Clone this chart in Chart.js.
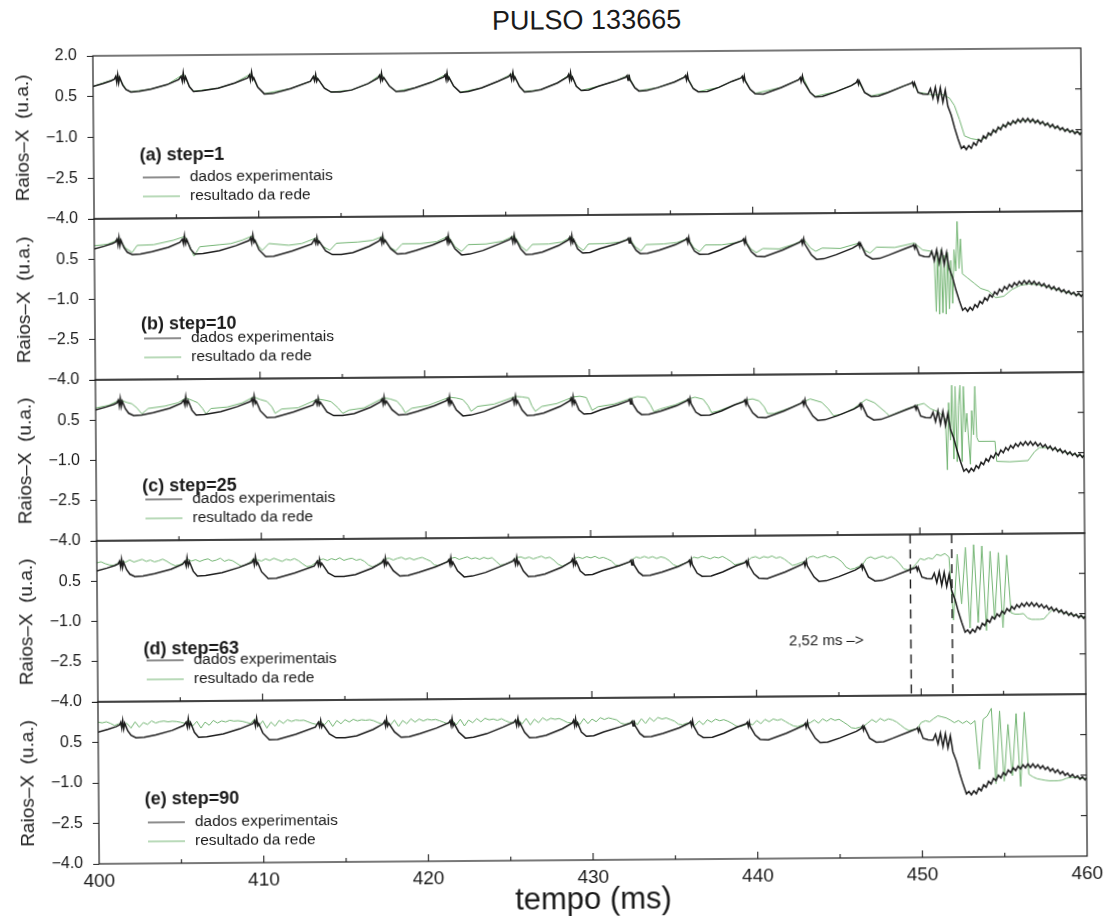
<!DOCTYPE html>
<html>
<head>
<meta charset="utf-8">
<title>PULSO 133665</title>
<script src="https://cdn.jsdelivr.net/npm/chart.js@4.4.1/dist/chart.umd.min.js"></script>
<style>
  html, body { margin: 0; padding: 0; background: #fff; }
  #figura {
    position: relative; width: 1110px; height: 916px; background: #fff;
    transform: rotate(-0.45deg); transform-origin: 590px 456px;
  }
  #titulo {
    position: absolute; left: 290px; width: 600px; top: 5px;
    text-align: center; font: 27px "Liberation Sans", Arial, Helvetica, sans-serif; color: #1a1a1a;
  }
  #figura canvas { position: absolute; left: 0; }
</style>
</head>
<body>
<div id="figura"><div id="titulo">PULSO 133665</div></div>
<script>
// ---- axis ticks and labels ----
const temposEixo = [400, 410, 420, 430, 440, 450, 460];
const yTicks = [-4.0, -2.5, -1.0, 0.5, 2.0];
const rotulosPainel = ['(a) step=1', '(b) step=10', '(c) step=25', '(d) step=63', '(e) step=90'];
const nomesSeries = ['dados experimentais', 'resultado da rede'];
const marcasTempo = [449.4, 451.92];      // dashed markers in panel (d)
const notaMarcas = '2,52 ms \u2013>';
const posNota = [442.0, -1.93];

// ---- measured soft X-ray signal [t (ms), value (u.a.)] ----
const experimental = [
  [400.0,0.88],[400.6,0.98],[401.1,1.08],[401.3,1.14],
  [401.38,1.24],[401.44,1.02],[401.5,1.3],[401.56,1.0],[401.62,1.2],
  [401.8,0.92],[402.0,0.75],[402.3,0.66],[402.8,0.68],[403.5,0.76],[404.5,0.92],[405.2,1.1],
  [405.35,1.22],[405.42,1.04],[405.48,1.35],[405.55,1.05],[405.62,1.2],
  [405.85,0.84],[406.1,0.66],[406.6,0.68],[407.6,0.78],[408.6,0.96],[409.4,1.15],
  [409.5,1.25],[409.56,1.06],[409.63,1.36],[409.7,1.08],[409.76,1.15],
  [410.0,0.8],[410.4,0.55],[410.9,0.56],[412.0,0.74],[413.2,1.0],
  [413.38,1.18],[413.45,1.02],[413.52,1.25],[413.58,1.0],[413.65,1.1],
  [414.05,0.74],[414.45,0.6],[415.0,0.6],[415.7,0.67],[416.7,0.9],[417.3,1.1],
  [417.4,1.2],[417.46,1.02],[417.52,1.28],[417.58,1.02],[417.66,1.12],
  [418.0,0.8],[418.4,0.6],[418.9,0.62],[419.55,0.73],[420.55,0.93],[421.3,1.12],
  [421.38,1.2],[421.44,1.02],[421.5,1.27],[421.56,1.0],[421.62,1.1],
  [421.9,0.78],[422.3,0.55],[422.8,0.58],[423.6,0.71],[424.6,0.95],[425.25,1.12],
  [425.35,1.2],[425.42,1.0],[425.5,1.27],[425.56,1.0],[425.62,1.1],
  [425.9,0.75],[426.2,0.55],[426.6,0.56],[427.2,0.63],[428.2,0.87],[428.8,1.08],
  [428.88,1.18],[428.94,0.98],[429.0,1.24],[429.06,0.98],[429.12,1.08],
  [429.35,0.74],[429.65,0.58],[430.1,0.6],[430.7,0.74],[431.7,0.92],[432.35,1.06],
  [432.43,1.12],[432.49,0.95],[432.55,1.16],[432.61,0.96],
  [432.9,0.67],[433.15,0.55],[433.6,0.56],[434.3,0.67],[435.3,0.87],[435.9,1.04],
  [435.98,1.1],[436.04,0.94],[436.1,1.14],[436.16,0.94],
  [436.45,0.62],[436.75,0.5],[437.3,0.51],[438.0,0.66],[438.8,0.88],[439.35,1.0],
  [439.43,1.06],[439.49,0.9],[439.55,1.07],[439.6,0.9],
  [439.9,0.58],[440.2,0.42],[440.7,0.4],[441.8,0.64],[442.85,0.92],
  [442.95,1.0],[443.0,0.85],[443.08,1.06],[443.14,0.86],
  [443.55,0.44],[443.85,0.28],[444.3,0.3],[445.05,0.45],[446.05,0.69],[446.35,0.8],
  [446.42,0.88],[446.48,0.74],[446.52,0.87],
  [446.85,0.43],[447.25,0.28],[447.7,0.3],[448.25,0.42],[449.25,0.66],[449.7,0.76],
  [449.76,0.8],[449.82,0.66],[449.88,0.78],
  [450.1,0.41],[450.4,0.35],[450.7,0.34],
  [450.85,0.55],[451.0,0.2],[451.15,0.6],[451.3,0.1],[451.45,0.58],[451.6,0.05],[451.75,0.5],[451.9,-0.1],
  [452.1,-0.43],[452.3,-0.9],[452.5,-1.3],[452.7,-1.66],
  [452.85,-1.57],[453.0,-1.7],[453.15,-1.55],[453.3,-1.66],[453.45,-1.45],[453.6,-1.55],[453.75,-1.33],[453.9,-1.42],
  [454.05,-1.2],[454.2,-1.3],[454.35,-1.09],[454.5,-1.18],[454.65,-0.98],[454.8,-1.08],[454.95,-0.88],[455.1,-0.98],
  [455.25,-0.79],[455.4,-0.89],[455.55,-0.71],[455.7,-0.81],[455.85,-0.65],[456.0,-0.75],[456.15,-0.6],[456.3,-0.71],
  [456.45,-0.57],[456.6,-0.7],[456.75,-0.57],[456.9,-0.71],[457.05,-0.6],[457.2,-0.74],[457.35,-0.64],[457.5,-0.78],
  [457.65,-0.69],[457.8,-0.84],[457.95,-0.75],[458.1,-0.9],[458.25,-0.8],[458.4,-0.95],[458.55,-0.86],[458.7,-1.0],
  [458.85,-0.92],[459.0,-1.06],[459.15,-0.97],[459.3,-1.1],[459.45,-1.02],[459.6,-1.15],[459.75,-1.06],[459.9,-1.18],[460.0,-1.1]
];

// ---- network output, step = 1 ----
const rede1 = [
  [400.0,0.88],[401.3,1.14],[401.5,1.26],[402.0,0.76],[402.3,0.67],[403.5,0.76],[404.5,0.92],[405.5,1.3],
  [405.85,0.84],[406.1,0.67],[407.6,0.78],[408.6,0.96],[409.6,1.3],[410.0,0.8],[410.4,0.56],[412.0,0.74],
  [413.2,1.0],[413.5,1.22],[414.05,0.75],[414.45,0.6],[415.7,0.67],[416.7,0.9],[417.5,1.25],[418.0,0.8],
  [418.4,0.61],[419.55,0.73],[420.55,0.93],[421.5,1.24],[421.9,0.78],[422.3,0.56],[423.6,0.71],[424.6,0.95],
  [425.5,1.24],[425.9,0.76],[426.2,0.56],[427.2,0.63],[428.2,0.87],[429.0,1.2],[429.35,0.75],[429.65,0.59],
  [430.7,0.74],[431.7,0.92],[432.5,1.13],[432.9,0.68],[433.15,0.56],[434.3,0.67],[435.3,0.87],[436.05,1.1],
  [436.45,0.63],[436.75,0.51],[438.0,0.66],[438.8,0.88],[439.5,1.04],[439.9,0.59],[440.2,0.43],[441.8,0.64],
  [442.85,0.92],[443.1,1.03],[443.55,0.45],[443.85,0.3],[445.05,0.46],[446.05,0.69],[446.45,0.85],[446.85,0.44],
  [447.25,0.3],[448.25,0.43],[449.25,0.66],[449.8,0.78],[450.1,0.42],[450.7,0.36],[451.0,0.3],[451.5,0.35],
  [452.0,0.2],[452.3,-0.08],[452.6,-0.6],[452.9,-1.2],[453.3,-1.3],[453.9,-1.36],[454.2,-1.25],[454.7,-1.04],
  [455.2,-0.86],[455.7,-0.75],[456.2,-0.66],[456.7,-0.64],[457.2,-0.68],[457.7,-0.76],[458.2,-0.86],[458.7,-0.95],
  [459.2,-1.03],[459.7,-1.1],[460.0,-1.13]
];

// ---- network output, step = 10 ----
const rede10 = [
  [400.0,1.0],[400.8,1.05],[401.2,1.15],[401.5,1.27],[401.9,0.9],[402.3,0.74],[402.6,1.0],[403.6,1.02],
  [404.8,1.18],[405.5,1.32],[405.9,0.8],[406.05,0.58],[406.4,0.93],[407.6,1.0],[408.3,1.04],[409.0,1.17],
  [409.6,1.32],[409.95,0.95],[410.2,0.78],[410.6,1.03],[411.8,0.96],[412.6,1.02],[413.5,1.23],[413.9,0.9],
  [414.3,0.76],[414.7,1.02],[416.0,1.06],[416.9,1.12],[417.5,1.26],[417.9,0.88],[418.3,0.72],[418.7,0.98],
  [419.8,0.98],[420.8,1.05],[421.5,1.25],[421.9,0.86],[422.3,0.68],[422.7,0.93],[423.8,0.95],[424.8,1.05],
  [425.5,1.25],[425.9,0.86],[426.25,0.68],[426.6,0.92],[427.6,0.93],[428.4,1.0],[429.0,1.2],[429.35,0.85],
  [429.7,0.68],[430.0,0.92],[431.0,0.93],[431.9,0.98],[432.5,1.12],[432.85,0.8],[433.2,0.65],[433.5,0.88],
  [434.6,0.9],[435.4,0.95],[436.05,1.1],[436.4,0.75],[436.75,0.6],[437.1,0.85],[438.1,0.85],[438.9,0.92],
  [439.5,1.04],[439.85,0.7],[440.2,0.55],[440.6,0.7],[441.6,0.68],[442.5,0.85],[443.1,1.02],[443.5,0.7],
  [443.8,0.58],[444.2,0.7],[445.3,0.68],[446.45,0.88],[446.8,0.6],[447.1,0.5],[447.5,0.72],[448.6,0.7],
  [449.8,0.86],[450.3,0.6],[450.8,0.55],[451.0,0.3],
  [451.1,-1.7],[451.2,0.5],[451.3,-1.8],[451.4,0.6],[451.5,-1.75],[451.6,0.4],[451.7,-1.8],[451.8,0.5],
  [451.9,-1.6],[452.0,0.2],[452.1,-1.4],[452.2,0.6],[452.3,-0.2],[452.4,1.65],[452.5,-0.1],[452.6,1.0],
  [452.7,-0.3],[453.0,-0.45],[453.4,-0.65],[453.8,-0.85],[454.3,-0.95],[454.7,-1.2],[455.2,-1.15],[455.7,-0.9],
  [456.2,-0.75],[456.7,-0.7],[457.2,-0.72],[457.7,-0.78],[458.2,-0.88],[458.7,-0.96],[459.2,-1.05],[459.7,-1.12],
  [460.0,-1.15]
];

// ---- network output, step = 25 ----
const rede25 = [
  [400.0,0.95],[400.8,1.05],[401.5,1.25],[401.9,1.15],[402.2,1.1],[402.5,0.95],[402.8,0.72],[403.2,0.92],
  [404.2,1.0],[405.0,1.12],[405.5,1.3],[405.9,1.2],[406.2,1.12],[406.5,0.9],[406.7,0.7],[407.0,0.9],
  [408.0,0.95],[408.9,1.1],[409.6,1.32],[410.0,1.22],[410.4,1.15],[410.7,0.95],[410.9,0.7],[411.3,0.86],
  [412.3,0.9],[413.5,1.22],[413.9,1.18],[414.3,1.12],[414.7,0.9],[415.0,0.68],[415.4,0.8],[416.3,0.88],
  [417.5,1.25],[417.9,1.2],[418.3,1.12],[418.6,0.9],[418.8,0.68],[419.2,0.85],[420.2,0.95],[421.5,1.25],
  [421.9,1.22],[422.3,1.16],[422.6,0.95],[422.8,0.72],[423.2,0.9],[424.2,0.98],[425.5,1.26],[425.9,1.24],
  [426.3,1.2],[426.5,0.9],[426.7,0.7],[427.1,0.88],[428.0,0.98],[429.0,1.22],[429.4,1.25],[429.8,1.2],
  [430.0,0.92],[430.15,0.72],[430.5,0.85],[431.5,0.95],[432.5,1.15],[432.9,1.22],[433.4,1.18],[433.7,0.9],
  [433.9,0.65],[434.3,0.75],[435.2,0.9],[436.05,1.12],[436.4,1.18],[436.9,1.1],[437.2,0.85],[437.4,0.6],
  [437.8,0.66],[438.7,0.86],[439.5,1.06],[439.9,1.1],[440.3,1.02],[440.6,0.8],[440.8,0.55],[441.2,0.55],
  [442.3,0.78],[443.1,1.0],[443.4,1.08],[444.1,0.95],[444.5,0.7],[444.8,0.45],[445.3,0.5],[446.05,0.72],
  [446.45,0.9],[446.8,1.05],[447.3,0.92],[448.0,0.55],[448.2,0.42],[449.25,0.68],[449.8,0.8],[450.3,0.88],
  [450.7,0.68],[451.2,0.55],[451.6,0.3],
  [451.7,-1.6],[451.8,0.9],[451.9,-0.5],[452.0,1.55],[452.1,-1.2],[452.2,1.5],[452.3,-1.3],[452.4,0.8],
  [452.5,1.55],[452.6,-1.3],[452.7,1.5],[452.8,-0.2],[452.9,0.5],[453.0,-0.5],[453.1,-1.4],[453.2,0.6],
  [453.3,-0.3],[453.4,1.5],[453.5,-0.4],[453.6,-0.55],[454.6,-0.55],[454.7,-1.3],[455.5,-1.32],[456.6,-1.28],
  [457.0,-0.95],[457.3,-0.8],[457.8,-0.8],[458.3,-0.87],[458.8,-0.97],[459.3,-1.05],[459.7,-1.1],[460.0,-1.14]
];

// ---- network output, steps 63 and 90: sampled every 0.25 ms from 400 ms, one row per ms ----
const inicioAmostra = 400;
const passoAmostra = 0.25;
const rede63 = [
  1.18, 1.22, 1.15, 1.10,   1.08, 1.15, 1.25, 1.20,   1.28, 1.20, 1.25, 1.30,   1.22, 1.27, 1.20, 1.24,
  1.30, 1.22, 1.12, 1.05,   1.08, 1.15, 1.30, 1.22,   1.27, 1.20, 1.26, 1.30,   1.21, 1.25, 1.32, 1.20,
  1.26, 1.22, 1.12, 1.02,   1.05, 1.14, 1.28, 1.25,   1.20, 1.28, 1.22, 1.30,   1.24, 1.18, 1.26, 1.22,
  1.28, 1.20, 1.08, 0.98,   1.00, 1.10, 1.22, 1.26,   1.20, 1.27, 1.22, 1.30,   1.20, 1.25, 1.28, 1.20,
  1.24, 1.16, 1.02, 0.95,   1.02, 1.12, 1.24, 1.27,   1.20, 1.26, 1.30, 1.22,   1.27, 1.20, 1.25, 1.29,
  1.22, 1.15, 1.00, 0.98,   1.04, 1.12, 1.24, 1.28,   1.20, 1.25, 1.30, 1.22,   1.26, 1.20, 1.27, 1.22,
  1.26, 1.12, 0.98, 1.00,   1.06, 1.14, 1.25, 1.28,   1.22, 1.27, 1.20, 1.25,   1.30, 1.22, 1.26, 1.15,
  1.00, 0.92, 0.98, 1.06,   1.20, 1.25, 1.20, 1.27,   1.22, 1.28, 1.20, 1.24,   1.18, 1.10, 0.95, 0.92,
  0.98, 1.04, 1.14, 1.24,   1.20, 1.26, 1.20, 1.25,   1.18, 1.24, 1.20, 1.10,   0.95, 0.88, 0.95, 1.00,
  1.10, 1.22, 1.18, 1.25,   1.20, 1.15, 1.22, 1.18,   1.24, 1.15, 1.05, 0.92,   0.96, 1.00, 1.05, 1.18,
  1.22, 1.15, 1.22, 1.18,   1.24, 1.16, 1.20, 1.12,   1.00, 0.88, 0.92, 0.98,   1.02, 1.18, 1.22, 1.15,
  1.20, 1.24, 1.16, 1.20,   1.12, 1.00, 0.80, 0.72,   0.75, 0.82, 0.90, 1.12,   1.18, 1.10, 1.16, 1.20,
  1.12, 1.18, 1.08, 0.92,   0.72, 0.68, 0.75, 0.90,   1.10, 1.05, 1.12, 1.08,   1.25, 1.20, 1.28, 1.15,
  -1.20, 1.25, -0.60, 1.50, -1.50, 1.60, -1.30, 1.55, -1.60, 1.35, -1.20, 1.30, -1.50, 1.20, -0.95, -1.00,
  -1.00, -0.98, -1.15, -1.20, -1.20, -1.20, -1.18, -1.00, -0.85, -0.85, -0.92, -0.97, -1.00, -1.04, -1.08, -1.12,
  -1.12
];
const rede90 = [
  1.25, 1.22, 1.26, 1.20,   1.12, 1.18, 1.05, 1.20,   1.02, 1.25, 1.05, 1.22,   1.15, 1.28, 1.20, 1.25,
  1.27, 1.24, 1.26, 1.25,   1.22, 1.18, 1.30, 1.08,   1.25, 1.00, 1.22, 1.10,   1.28, 1.18, 1.26, 1.22,
  1.28, 1.25, 1.26, 1.24,   1.20, 1.15, 1.32, 1.05,   1.25, 0.98, 1.20, 1.05,   1.26, 1.15, 1.28, 1.22,
  1.27, 1.25, 1.26, 1.20,   1.14, 1.10, 1.22, 1.08,   1.26, 1.02, 1.24, 1.12,   1.27, 1.18, 1.28, 1.22,
  1.26, 1.24, 1.26, 1.22,   1.15, 1.10, 1.25, 1.05,   1.24, 1.00, 1.22, 1.10,   1.28, 1.16, 1.27, 1.20,
  1.26, 1.23, 1.25, 1.20,   1.14, 1.08, 1.24, 1.04,   1.25, 1.00, 1.22, 1.12,   1.27, 1.15, 1.28, 1.22,
  1.25, 1.20, 1.26, 1.18,   1.12, 1.10, 1.24, 1.06,   1.26, 1.02, 1.23, 1.10,   1.28, 1.18, 1.26, 1.22,
  1.25, 1.18, 1.10, 1.08,   1.20, 1.02, 1.24, 1.05,   1.22, 1.12, 1.27, 1.20,   1.26, 1.22, 1.18, 1.06,
  1.02, 1.06, 1.15, 1.00,   1.22, 1.04, 1.25, 1.12,   1.26, 1.20, 1.24, 1.18,   1.12, 1.00, 0.98, 1.04,
  1.04, 0.95, 1.12, 0.98,   1.16, 1.07, 1.18, 1.12,   1.16, 1.10, 1.02, 0.92,   0.90, 0.95, 1.02, 0.96,
  1.12, 1.00, 1.16, 1.07,   1.17, 1.12, 1.16, 1.07,   0.98, 0.90, 0.88, 0.94,   0.98, 1.02, 1.12, 1.00,
  1.16, 1.07, 1.17, 1.10,   1.14, 1.04, 0.94, 0.82,   0.80, 0.84, 0.88, 1.00,   1.12, 1.02, 1.16, 1.07,
  1.14, 1.10, 1.02, 0.90,   0.78, 0.70, 0.74, 0.78,   1.00, 1.06, 1.02, 1.14,   1.24, 1.20, 1.16, 1.08,
  0.98, 1.06, 0.95, 1.04,   0.92, 1.05, -0.75, 1.10, 1.22, 1.50, -1.30, 1.40, -1.20, 0.90, -1.00, 1.30,
  -1.40, 1.35, -0.95, -1.05, -1.12, -1.15, -1.18, -1.20, -1.20, -1.20, -1.18, -1.12, -1.08, -1.08, -1.10, -1.12,
  -1.12
];

// ---- drawing ----
const FONTE = '"Liberation Sans", Arial, Helvetica, sans-serif';
const COR_EXP = '#1c1c1c';
const COR_REDE = '#74b574';
const COR_TEXTO = '#1a1a1a';
Chart.defaults.font.family = FONTE;
Chart.defaults.color = COR_TEXTO;

const pares = arr => arr.map(([x, y]) => ({ x, y }));
const amostras = vals => vals.map((y, i) => ({ x: inicioAmostra + i * passoAmostra, y }));
const redes = [pares(rede1), pares(rede10), pares(rede25), amostras(rede63), amostras(rede90)];
const dadosExp = pares(experimental);

// frame geometry of each panel (top of plot area and height, px)
const molduras = [
  { topo: 52, altura: 163, leg: [100, 122, 141] },
  { topo: 215, altura: 161, leg: [106, 120, 139] },
  { topo: 376, altura: 161, leg: [107, 120, 139] },
  { topo: 537, altura: 161, leg: [109, 120, 139] },
  { topo: 698, altura: 162, leg: [98, 121, 140] }
];
const MARGEM = 24, LARG_EIXO_Y = 96, DIR = 26, ALT_EIXO_X = 56;

function linha(ctx, x1, y1, x2, y2) {
  ctx.beginPath(); ctx.moveTo(x1, y1); ctx.lineTo(x2, y2); ctx.stroke();
}

function pluginPainel(ip) {
  return {
    id: 'painel' + ip,
    afterDatasetsDraw(chart) {
      const { ctx, chartArea: a, scales: { x, y } } = chart;
      ctx.save();
      // dashed markers and note in panel (d)
      if (ip === 3) {
        ctx.strokeStyle = '#1c1c1c'; ctx.lineWidth = 1.4; ctx.setLineDash([9, 6]);
        marcasTempo.forEach(t => { const px = x.getPixelForValue(t); linha(ctx, px, a.top, px, a.bottom); });
        ctx.setLineDash([]);
        ctx.fillStyle = COR_TEXTO; ctx.font = '15px ' + FONTE;
        ctx.textAlign = 'left'; ctx.textBaseline = 'middle';
        ctx.fillText(notaMarcas, x.getPixelForValue(posNota[0]), y.getPixelForValue(posNota[1]));
      }
      // frame
      ctx.strokeStyle = '#1e1e1e'; ctx.lineWidth = 1.2;
      ctx.strokeRect(a.left, a.top, a.right - a.left, a.bottom - a.top);
      // inner ticks: bottom (major 10 ms, minor 5 ms) and right side
      ctx.lineWidth = 1.1;
      for (let v = 405; v < 460; v += 5) {
        const px = x.getPixelForValue(v);
        linha(ctx, px, a.bottom, px, a.bottom - (v % 10 === 0 ? 7 : 4));
      }
      yTicks.forEach(v => {
        if (v > -4 && v < 2) { const py = y.getPixelForValue(v); linha(ctx, a.right, py, a.right - 6, py); }
      });
      // legend
      const lx = a.left, ly = molduras[ip].leg;
      ctx.fillStyle = COR_TEXTO; ctx.textAlign = 'left'; ctx.textBaseline = 'middle';
      ctx.font = 'bold 18px ' + FONTE;
      ctx.fillText(rotulosPainel[ip], lx + 46, a.top + ly[0]);
      ctx.font = '15.5px ' + FONTE;
      ctx.strokeStyle = COR_EXP; ctx.lineWidth = 1.2;
      linha(ctx, lx + 49, a.top + ly[1], lx + 86, a.top + ly[1]);
      ctx.fillText(nomesSeries[0], lx + 96, a.top + ly[1]);
      ctx.strokeStyle = COR_REDE; ctx.lineWidth = 1.2;
      linha(ctx, lx + 49, a.top + ly[2], lx + 86, a.top + ly[2]);
      ctx.fillText(nomesSeries[1], lx + 96, a.top + ly[2]);
      ctx.restore();
    }
  };
}

const figura = document.getElementById('figura');
molduras.forEach((m, ip) => {
  const ultimo = ip === molduras.length - 1;
  const topoCanvas = m.topo - MARGEM;
  const padInf = ultimo ? 916 - (m.topo + m.altura + ALT_EIXO_X) : MARGEM;
  const altura = ultimo ? 916 - topoCanvas : m.altura + 2 * MARGEM;
  const cv = document.createElement('canvas');
  cv.width = 1110; cv.height = altura;
  cv.style.top = topoCanvas + 'px';
  figura.appendChild(cv);

  new Chart(cv, {
    type: 'line',
    data: {
      datasets: [
        { label: nomesSeries[0], data: dadosExp, borderColor: COR_EXP, borderWidth: 1.5, pointRadius: 0, tension: 0 },
        { label: nomesSeries[1], data: redes[ip], borderColor: COR_REDE, borderWidth: 1, pointRadius: 0, tension: 0 }
      ]
    },
    options: {
      responsive: false, animation: false, devicePixelRatio: 1,
      events: [],
      layout: { padding: { top: MARGEM, bottom: padInf, left: 0, right: DIR } },
      plugins: { legend: { display: false }, tooltip: { enabled: false } },
      scales: {
        x: {
          type: 'linear', min: 400, max: 460, display: ultimo,
          grid: { display: false, drawTicks: false }, border: { display: false },
          afterBuildTicks: s => { s.ticks = temposEixo.map(v => ({ value: v })); },
          ticks: { font: { size: 19 }, color: COR_TEXTO, padding: 6, maxRotation: 0, autoSkip: false },
          title: { display: true, text: 'tempo (ms)', font: { size: 31, lineHeight: 1.0 }, color: COR_TEXTO, padding: { top: 0, bottom: 0 } },
          afterFit: s => { if (ultimo) s.height = ALT_EIXO_X; }
        },
        y: {
          type: 'linear', min: -4, max: 2,
          afterBuildTicks: s => { s.ticks = yTicks.map(v => ({ value: v })); },
          afterFit: s => { s.width = LARG_EIXO_Y; },
          grid: { drawOnChartArea: false, drawTicks: true, tickLength: 6, color: '#222', lineWidth: 1 },
          border: { display: false },
          ticks: {
            font: { size: 16 }, color: COR_TEXTO, padding: 10,
            callback: v => (ip > 0 && v === 2) ? '' : v.toFixed(1).replace('-', '\u2212')
          },
          title: { display: true, text: 'Raios\u2013X  (u.a.)', font: { size: 19 }, color: COR_TEXTO, padding: { top: 14, bottom: 0 } }
        }
      }
    },
    plugins: [pluginPainel(ip)]
  });
});
</script>
</body>
</html>
